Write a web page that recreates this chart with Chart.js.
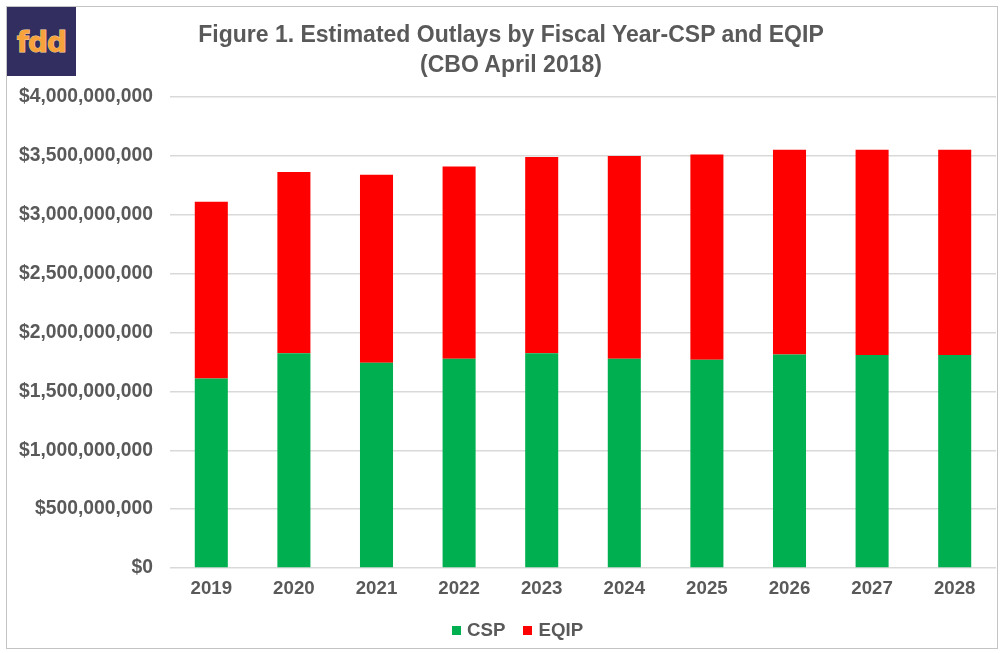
<!DOCTYPE html>
<html>
<head>
<meta charset="utf-8">
<title>Estimated Outlays by Fiscal Year-CSP and EQIP</title>
<script src="https://cdn.jsdelivr.net/npm/chart.js@4/dist/chart.umd.min.js"></script>
<style>
	html, body { margin: 0; padding: 0; background: #fff; }
	#wrap { position: relative; width: 1003px; height: 653px; overflow: hidden; }
	#frame { position: absolute; left: 6px; top: 6px; width: 990px; height: 641px; border: 1px solid #c4c4c4; }
	#logo {
		position: absolute; left: 7px; top: 7px; width: 69px; height: 69px;
		background: #322f60; color: #f7a23b;
		font: bold 28px "DejaVu Sans", sans-serif; line-height: 72px; text-align: center;
		letter-spacing: -1px;
		-webkit-text-stroke: 1px #fbd9a6; paint-order: stroke fill;
	}
	#chart { position: absolute; left: 0; top: 0; }
	#title {
		position: absolute; left: 11px; top: 20px; width: 1000px;
		text-align: center; color: #595959;
		font: bold 23px "Liberation Sans", Arial, sans-serif; line-height: 29.5px;
	}
	#legend {
		position: absolute; left: 452px; top: 618px; height: 24px;
		display: flex; align-items: center;
		font: bold 18.7px "Liberation Sans", Arial, sans-serif; color: #595959;
	}
	#legend .item { display: flex; align-items: center; margin-right: 18px; }
	#legend .box { width: 9px; height: 9px; margin-right: 6px; }
</style>
</head>
<body>
<div id="wrap">
	<div id="frame"></div>
	<canvas id="chart" width="1003" height="653"></canvas>
	<div id="title"></div>
	<div id="logo">fdd</div>
	<div id="legend"></div>
</div>
<script>
// DATA (dollars)
const years = ["2019", "2020", "2021", "2022", "2023", "2024", "2025", "2026", "2027", "2028"];
const cspOutlays = [1610000000, 1823000000, 1744000000, 1778000000, 1823000000, 1778000000, 1769000000, 1814000000, 1809000000, 1809000000];
const eqipOutlays = [1500000000, 1539000000, 1596000000, 1632000000, 1667000000, 1720000000, 1743000000, 1738000000, 1743000000, 1743000000];
const titleLines = ["Figure 1. Estimated Outlays by Fiscal Year-CSP and EQIP", "(CBO April 2018)"];

const textColor = "#595959";
const gridColor = "#d9d9d9";
const fontFamily = "'Liberation Sans', Arial, sans-serif";

// title as html text (chart.js title can't be offset from canvas center)
document.getElementById("title").innerHTML = titleLines.join("<br>");

const ctx = document.getElementById("chart");
const outlayChart = new Chart(ctx, {
	type: "bar",
	data: {
		labels: years,
		datasets: [
			{
				label: "CSP",
				data: cspOutlays,
				backgroundColor: "#00b050",
				barPercentage: 0.4,
				categoryPercentage: 1
			},
			{
				label: "EQIP",
				data: eqipOutlays,
				backgroundColor: "#ff0000",
				barPercentage: 0.4,
				categoryPercentage: 1
			}
		]
	},
	options: {
		responsive: false,
		devicePixelRatio: 1,
		animation: false,
		layout: {
			padding: {left: 12, right: 7, top: 97, bottom: 0}
		},
		plugins: {
			legend: {display: false},
			tooltip: {enabled: false},
			title: {display: false}
		},
		scales: {
			x: {
				stacked: true,
				grid: {display: false, drawTicks: false},
				border: {display: false},
				ticks: {
					color: textColor,
					padding: 10,
					font: {family: fontFamily, size: 18.7, weight: "bold"}
				},
				afterFit: (scale) => { scale.height = 85; }
			},
			y: {
				stacked: true,
				min: 0,
				max: 4000000000,
				grid: {color: gridColor, lineWidth: 1.5, drawTicks: false},
				border: {display: false},
				ticks: {
					stepSize: 500000000,
					color: textColor,
					padding: 17,
					font: {family: fontFamily, size: 19.3, weight: "bold"},
					callback: (v) => "$" + Number(v).toLocaleString("en-US")
				},
				afterFit: (scale) => { scale.width = 158; }
			}
		}
	}
});

// html legend built from the datasets
const legendEl = document.getElementById("legend");
legendEl.innerHTML = outlayChart.data.datasets
		.map(ds => `<div class="item"><div class="box" style="background:${ds.backgroundColor}"></div>${ds.label}</div>`)
		.join("");
</script>
</body>
</html>
